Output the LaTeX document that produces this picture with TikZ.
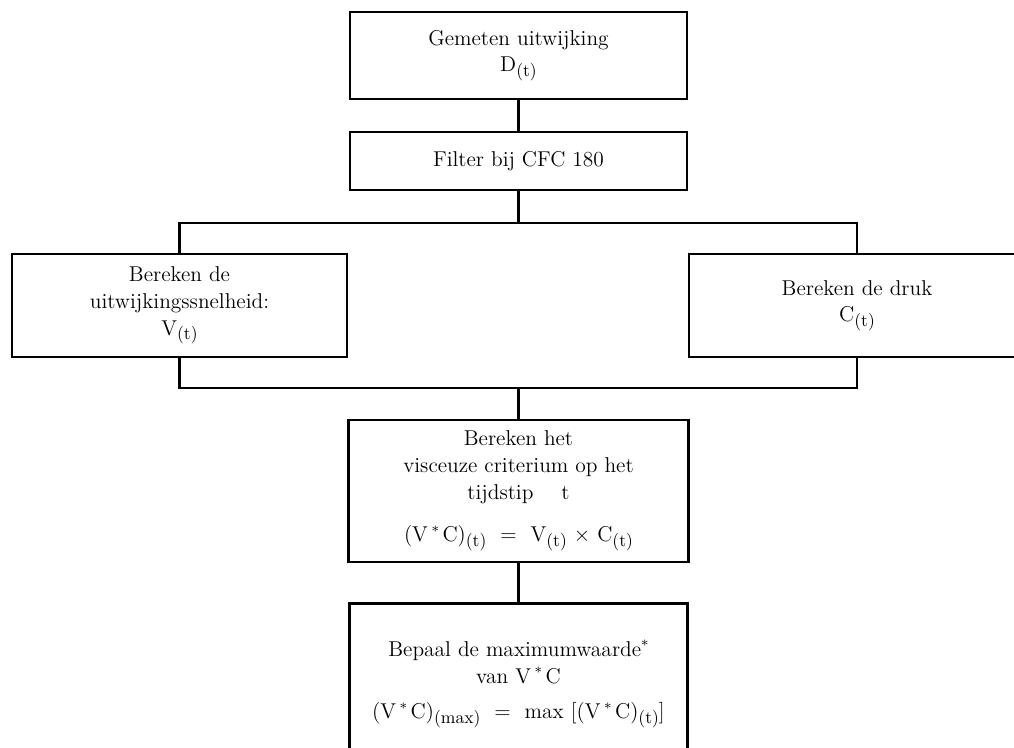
\documentclass[tikz,border=0pt]{standalone}
\usetikzlibrary{positioning}

\tikzset{
  blok/.style={draw, line width=1.5pt, align=center, inner sep=0pt,
    font=\fontsize{12.2}{15.2}\selectfont},
  lijn/.style={line width=1.3pt}
}
\newcommand{\sub}[1]{\raisebox{-0.5ex}{\fontsize{10}{10}\selectfont(#1)}}
\newcommand{\ster}{\,\raisebox{0.6ex}{\fontsize{8}{8}\selectfont*}\,}

\begin{document}
\begin{tikzpicture}[x=0.02cm, y=-0.02cm]

\useasboundingbox (0,0) rectangle (1014,747);
\clip (0,0) rectangle (1014,747);

\node[blok, minimum width=6.74cm, minimum height=1.74cm] (meting) at (518.5,55.5)
  {Gemeten uitwijking\\ D\sub{t}};
\node[blok, minimum width=6.74cm, minimum height=1.16cm] (filter) at (518.5,161)
  {Filter bij CFC 180};

\node[blok, minimum width=6.7cm, minimum height=2.06cm] (snelheid) at (179.5,305.5)
  {Bereken de\\ uitwijkingssnelheid:\\ V\sub{t}};
\node[blok, minimum width=6.72cm, minimum height=2.06cm] (druk) at (857,305.5)
  {Bereken de druk\\ C\sub{t}};

\node[blok, minimum width=6.8cm, minimum height=2.84cm] (criterium) at (518.5,491)
  {Bereken het\\ visceuze criterium op het\\ tijdstip\hspace{1.3em}t\\[9pt]
   (V\ster C)\sub{t}\ \ =\ \ V\sub{t} $\times$ C\sub{t}};
\node[blok, minimum width=6.76cm, minimum height=3.2cm, anchor=north] (maximum) at (518.5,602)
  {};
\node[font=\fontsize{12.2}{15.2}\selectfont, align=center] (maxtekst) at (518.5,684)
  {Bepaal de maximumwaarde\raisebox{0.6ex}{\fontsize{8}{8}\selectfont*}\\ van V\ster C\\[5pt]
   (V\ster C)\sub{max}\ \ =\ \ max [(V\ster C)\sub{t}]};

% verbindingen
\coordinate (boven) at (518.5,223);
\coordinate (onder) at (518.5,388);

\draw[lijn] (meting.south) -- (filter.north);
\draw[lijn] (filter.south) -- (boven);
\draw[lijn] (snelheid.north) |- (boven) -| (druk.north);
\draw[lijn] (snelheid.south) |- (onder) -| (druk.south);
\draw[lijn] (onder) -- (criterium.north);
\draw[lijn] (criterium.south) -- (maximum.north);

\end{tikzpicture}
\end{document}
